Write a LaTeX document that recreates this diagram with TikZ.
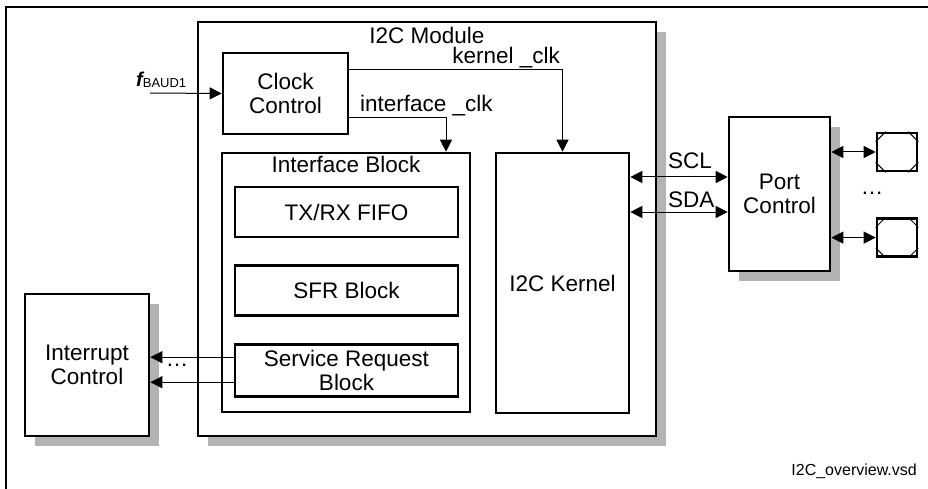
\documentclass[tikz,border=0pt]{standalone}
\usepackage{fontspec}
\setmainfont{Liberation Sans}
\definecolor{shadowGray}{HTML}{B3B3B3}
\usetikzlibrary{positioning,shadows,arrows.meta}

\begin{document}
\begin{tikzpicture}[
        x=1pt, y=-1pt,
        >={Triangle[length=12pt,width=12pt]},
        box/.style={draw, line width=2.6pt, fill=white, inner sep=0pt,
                    font=\fontsize{22.5}{24}\selectfont, align=center},
        shbox/.style={box, drop shadow={shadow xshift=10pt, shadow yshift=-10pt,
                      fill=shadowGray, opacity=1}},
        lbl/.style={inner sep=0pt, font=\fontsize{22.5}{24}\selectfont},
        arrow/.style={->, line width=1pt},
        biarrow/.style={<->, line width=1pt},
      ]
        \useasboundingbox (0,0) rectangle (928,489);
        % Rahmen
        \draw[line width=2pt] (6,489) -- (6,7) -- (928,7);
        % Modul
        \node[shbox, minimum width=458pt, minimum height=414pt] (module) at (427,229) {};
        \node[lbl, anchor=base] (modlbl) at (427,44) {I2C Module};
        % Takt
        \node[box, minimum width=125pt, minimum height=81pt] (clk) at (285.5,93.5)
          {Clock\\Control};
        % Interface Block mit drei Teilbloecken
        \node[box, minimum width=248pt, minimum height=259pt] (ifblk) at (346,282.5) {};
        \node[lbl, anchor=base] (iflbl) at (346,172) {Interface Block};
        \node[box, minimum width=223pt, minimum height=50pt] (fifo) at (346.5,212)
          {TX/RX FIFO};
        \node[box, minimum width=223pt, minimum height=50pt, below=26pt of fifo] (sfr)
          {SFR Block};
        \node[box, minimum width=223pt, minimum height=52pt, below=26pt of sfr] (srb)
          {Service Request\\Block};
        % Kernel
        \node[box, minimum width=133pt, minimum height=260pt] (kernel) at (562.5,283)
          {I2C Kernel};
        % Port Control und Pins
        \node[shbox, minimum width=101pt, minimum height=154pt] (port) at (779.5,194)
          {Port\\Control};
        \node[box, minimum width=40pt, minimum height=38pt] (pin1) at (897,152) {};
        \node[box, minimum width=40pt, minimum height=38pt, below=45pt of pin1] (pin2) {};
        \foreach \p in {pin1,pin2}{
          \draw[line width=1pt]
            ([xshift=10pt]\p.north west) -- ([yshift=-10pt]\p.north west)
            ([xshift=-10pt]\p.north east) -- ([yshift=-10pt]\p.north east)
            ([xshift=10pt]\p.south west) -- ([yshift=10pt]\p.south west)
            ([xshift=-10pt]\p.south east) -- ([yshift=10pt]\p.south east);
        }
        \node[lbl, anchor=base] (pindots) at (872,194) {\dots};
        % Interrupt Control
        \node[shbox, minimum width=124pt, minimum height=142pt] (intr) at (87,365)
          {Interrupt\\Control};
        \node[lbl, anchor=base] (irqdots) at (177,366) {\dots};
        % Eingangstakt
        \coordinate (fin) at (150,93);
        \node[inner sep=0pt, anchor=base west] (fbaud) at (136,87)
          {{\fontsize{20}{20}\selectfont\bfseries\itshape f}\raisebox{-1pt}{\fontsize{13}{13}\selectfont BAUD1}};
        \draw[arrow] (fin) -- (clk.west);
        % Takte: erst waagrecht, dann nach unten
        \draw[arrow] ([yshift=23.5pt]clk.east) -| (kernel.north);
        \node[lbl, anchor=base east] (kclk) at (560,64) {kernel \_clk};
        \draw[arrow] ([yshift=-24.5pt]clk.east) -| ([xshift=100pt]ifblk.north);
        \node[lbl, anchor=base west] (iclk) at (360,112) {interface \_clk};
        % SCL / SDA
        \coordinate (scl) at ([yshift=106pt]kernel.east);
        \coordinate (sda) at ([yshift=71pt]kernel.east);
        \draw[biarrow] (scl) -- (scl -| port.west);
        \draw[biarrow] (sda) -- (sda -| port.west);
        \node[lbl, anchor=base west] (scllbl) at (668,168) {SCL};
        \node[lbl, anchor=base west] (sdalbl) at (668,207) {SDA};
        % Pins
        \draw[biarrow] (pin1.west -| port.east) -- (pin1.west);
        \draw[biarrow] (pin2.west -| port.east) -- (pin2.west);
        % Service Requests
        \coordinate (irq1) at ([yshift=13pt]srb.west);
        \coordinate (irq2) at ([yshift=-12pt]srb.west);
        \draw[arrow] (irq1) -- (irq1 -| intr.east);
        \draw[arrow] (irq2) -- (irq2 -| intr.east);
        % Dateiname
        \node[inner sep=0pt, anchor=base east, font=\fontsize{16}{16}\selectfont] (fname)
          at (917,475) {I2C\_overview.vsd};
      \end{tikzpicture}
\end{document}
